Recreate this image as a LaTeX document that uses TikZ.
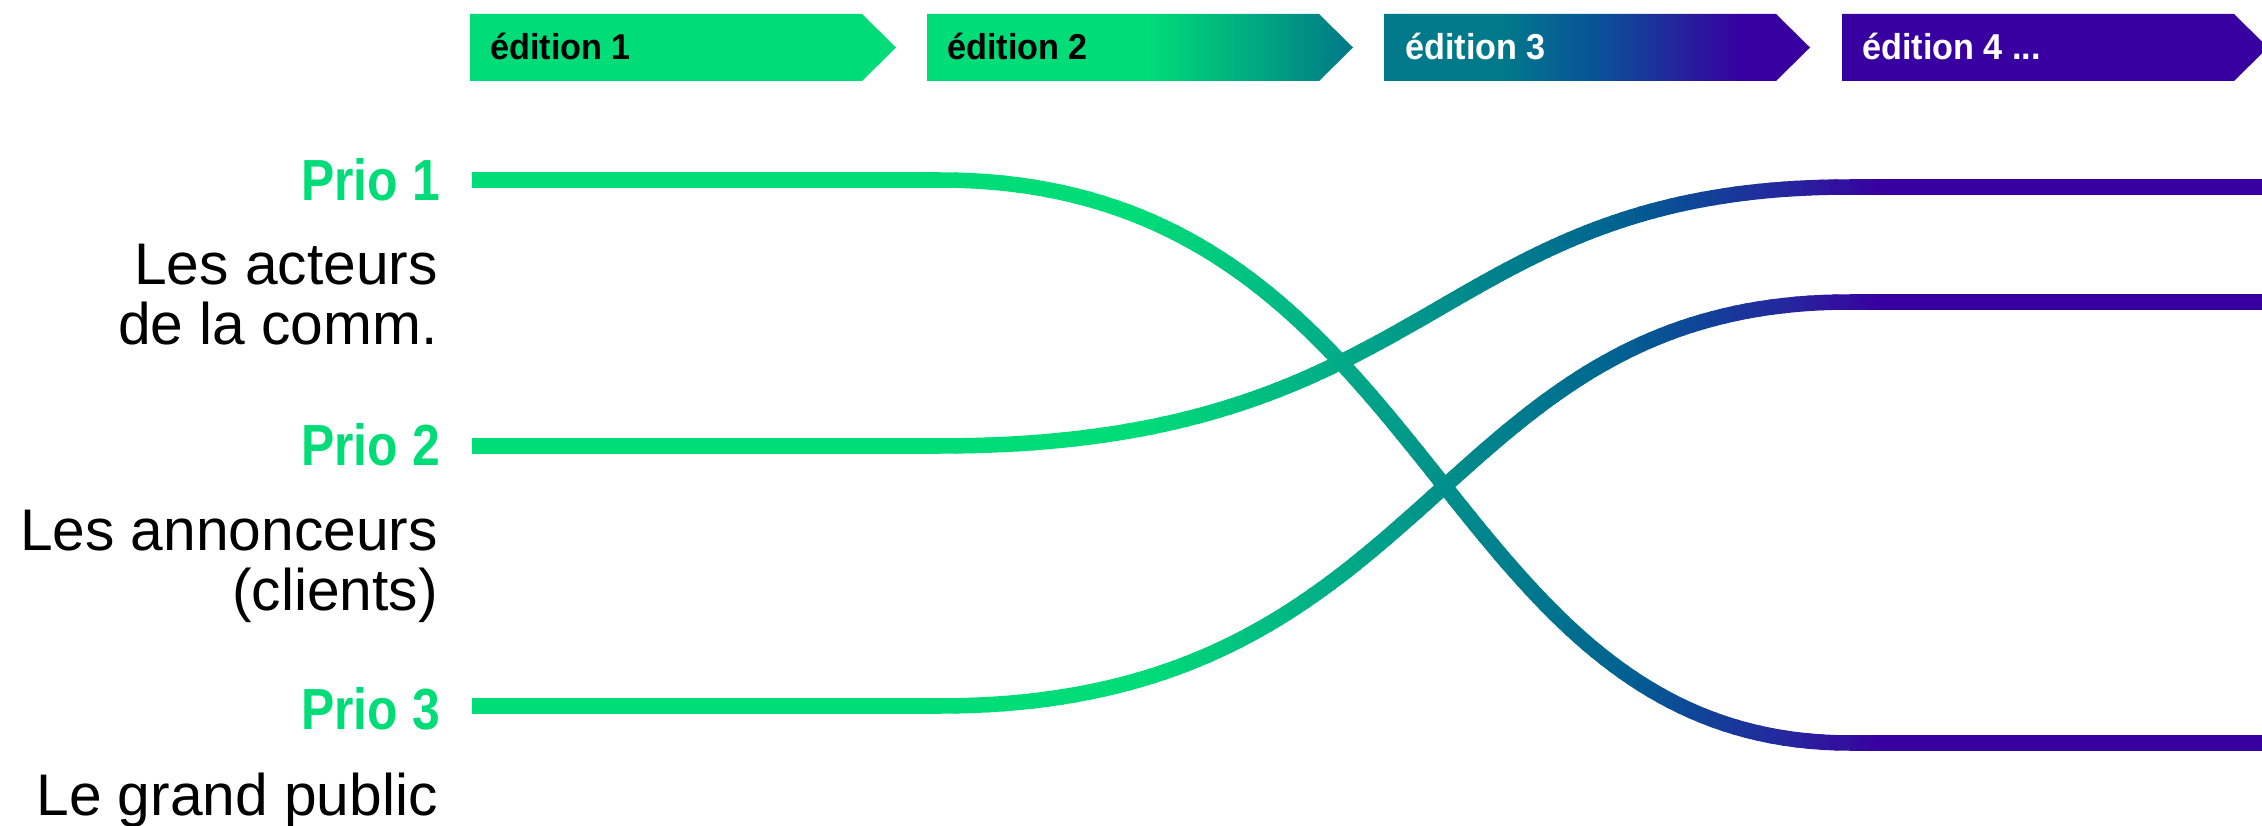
\documentclass[tikz,border=0pt]{standalone}
\usepackage{fontspec}
\setmainfont{Liberation Sans}
\newfontfamily\prbold[FakeStretch=0.86]{Liberation Sans Bold}
\newfontfamily\edbold[FakeStretch=0.95]{Liberation Sans Bold}
\usetikzlibrary{calc}
\definecolor{prgreen}{RGB}{0,220,120}
\definecolor{prpurple}{RGB}{56,0,160}
\definecolor{prteal}{RGB}{0,120,136}
\definecolor{prtealb}{RGB}{0,122,138}
\definecolor{prblue}{RGB}{10,80,152}
\definecolor{prtext}{RGB}{0,0,0}
\definecolor{segc}{RGB}{0,220,120}

\pgfdeclarehorizontalshading{edtwo}{100bp}{color(0bp)=(prgreen); color(51bp)=(prgreen); color(75bp)=(prteal); color(100bp)=(prteal)}
\pgfdeclarehorizontalshading{edthree}{100bp}{color(0bp)=(prtealb); color(38.6bp)=(prtealb); color(50.4bp)=(prblue); color(66.8bp)=(prpurple); color(100bp)=(prpurple)}

\newcommand\prseg[8]{%
  \pgfmathsetmacro\prf{(\prx-#1)/(#2-#1)}%
  \pgfmathtruncatemacro\prr{round(#3+\prf*(#4-#3))}%
  \pgfmathtruncatemacro\prg{round(#5+\prf*(#6-#5))}%
  \pgfmathtruncatemacro\prb{round(#7+\prf*(#8-#7))}%
  \definecolor{segc}{RGB}{\prr,\prg,\prb}}
\newcommand\prsetcol[1]{%
  \pgfmathsetmacro\prx{min(max(#1,1150),1880)}%
  \ifdim\prx pt<1350pt \prseg{1150}{1350}{0}{0}{220}{170}{120}{136}%
  \else\ifdim\prx pt<1500pt \prseg{1350}{1500}{0}{0}{170}{130}{136}{140}%
  \else\ifdim\prx pt<1620pt \prseg{1500}{1620}{0}{0}{130}{100}{140}{145}%
  \else\ifdim\prx pt<1700pt \prseg{1620}{1700}{0}{15}{100}{70}{145}{152}%
  \else\ifdim\prx pt<1800pt \prseg{1700}{1800}{15}{40}{70}{35}{152}{158}%
  \else \prseg{1800}{1880}{40}{56}{35}{0}{158}{160}%
  \fi\fi\fi\fi\fi}

% #1 start, #2 bend start, #3 ctrl1, #4 ctrl2, #5 bend end, #6 end
\newcommand\prconnector[6]{%
  \draw[prline, prgreen] (#1) -- (#2);
  \foreach \k in {1,...,90}{%
    \pgfmathsetmacro\ta{(\k-1)/90}%
    \pgfmathsetmacro\tb{\k/90}%
    \pgfmathsetmacro\tm{(\k-0.5)/90}%
    \pgfmathsetmacro\xm{940*(1-\tm)^3+4320*(1-\tm)^2*\tm+4290*(1-\tm)*\tm^2+1850*\tm^3}%
    \prsetcol{\xm}%
    \pgfmathsetmacro\aA{(1-\ta)^3}\pgfmathsetmacro\aB{3*(1-\ta)^2*\ta}%
    \pgfmathsetmacro\aC{3*(1-\ta)*\ta^2}\pgfmathsetmacro\aD{\ta^3}%
    \pgfmathsetmacro\bA{(1-\tb)^3}\pgfmathsetmacro\bB{3*(1-\tb)^2*\tb}%
    \pgfmathsetmacro\bC{3*(1-\tb)*\tb^2}\pgfmathsetmacro\bD{\tb^3}%
    \draw[prline, segc, line cap=round]
      ($\aA*(#2)+\aB*(#3)+\aC*(#4)+\aD*(#5)$) --
      ($\bA*(#2)+\bB*(#3)+\bC*(#4)+\bD*(#5)$);
  }
  \foreach \s in {0,6,...,36}{%
    \prsetcol{1850+\s+3}%
    \draw[prline, segc] ($(#5)+(\s-0.3,0)$) -- ($(#5)+(\s+6.3,0)$);
  }
  \draw[prline, prpurple] ($(#5)+(42,0)$) -- (#6);
}

\begin{document}
\begin{tikzpicture}[x=1pt, y=-1pt,
  prline/.style={line width=15.5pt},
  prio/.style={inner sep=0pt, anchor=base east, text=prgreen, font=\prbold\fontsize{58}{60}\selectfont},
  desc/.style={inner sep=0pt, anchor=base east, align=right, text=prtext, font=\fontsize{58.7}{59.5}\selectfont},
  edtext/.style={inner sep=0pt, anchor=base west, font=\edbold\fontsize{36}{40}\selectfont}]
\useasboundingbox (0,0) rectangle (2262,826);

% edition arrows
\fill[prgreen] (470,14) -- (862,14) -- (896,47.5) -- (862,81) -- (470,81) -- cycle;
\shade[shading=edtwo] (927,14) -- (1319,14) -- (1353,47.5) -- (1319,81) -- (927,81) -- cycle;
\shade[shading=edthree] (1384,14) -- (1776,14) -- (1810,47.5) -- (1776,81) -- (1384,81) -- cycle;
\fill[prpurple] (1842,14) -- (2234,14) -- (2268,47.5) -- (2234,81) -- (1842,81) -- cycle;
\node[edtext, text=black] (ed1) at (490,60) {édition 1};
\node[edtext, text=black] (ed2) at (947,60) {édition 2};
\node[edtext, text=white] (ed3) at (1405,60) {édition 3};
\node[edtext, text=white] (ed4) at (1862,60) {édition 4 ...};

% labels (base anchor of a two-line node is its last line)
\node[prio] (p1) at (440,201) {Prio 1};
\node[desc] (d1) at (438,344) {Les acteurs\\de la comm.};
\node[prio] (p2) at (440,465) {Prio 2};
\node[desc] (d2) at (438,610) {Les annonceurs\\(clients)};
\node[prio] (p3) at (440,729) {Prio 3};
\node[desc] (d3) at (438,815) {Le grand public};

% connector coordinates
\coordinate (l1a) at (472,180);  \coordinate (l1b) at (940,180);
\coordinate (l1c1) at (1440,180); \coordinate (l1c2) at (1430,743);
\coordinate (l1c) at (1850,743); \coordinate (l1d) at (2262,743);
\coordinate (l2a) at (472,446);  \coordinate (l2b) at (940,446);
\coordinate (l2c1) at (1440,446); \coordinate (l2c2) at (1430,187);
\coordinate (l2c) at (1850,187); \coordinate (l2d) at (2262,187);
\coordinate (l3a) at (472,706);  \coordinate (l3b) at (940,706);
\coordinate (l3c1) at (1440,706); \coordinate (l3c2) at (1430,302);
\coordinate (l3c) at (1850,302); \coordinate (l3d) at (2262,302);

\prconnector{l2a}{l2b}{l2c1}{l2c2}{l2c}{l2d}
\prconnector{l3a}{l3b}{l3c1}{l3c2}{l3c}{l3d}
\prconnector{l1a}{l1b}{l1c1}{l1c2}{l1c}{l1d}
\end{tikzpicture}
\end{document}
